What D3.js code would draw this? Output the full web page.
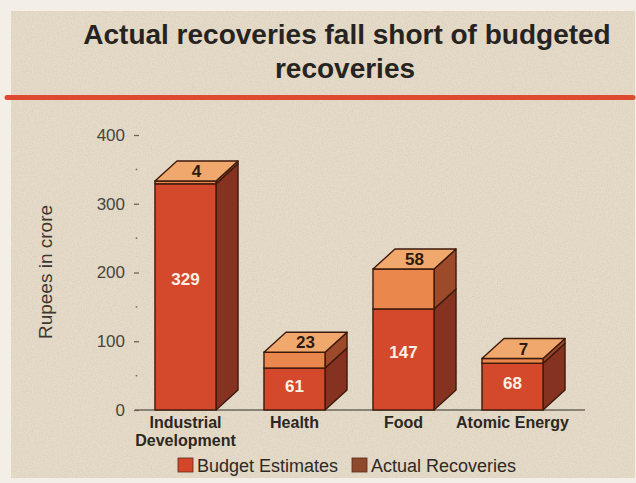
<!DOCTYPE html>
<html>
<head>
<meta charset="utf-8">
<script src="https://cdn.jsdelivr.net/npm/d3@7"></script>
<style>
  html, body { margin: 0; padding: 0; background: #f3efe7; }
  svg { display: block; }
  text { font-family: "Liberation Sans", Arial, Helvetica, sans-serif; }
</style>
</head>
<body>
<svg id="chart" width="636" height="483"></svg>
<script>
// Recoveries by department, Rupees in crore
const categories = ["Industrial Development", "Health", "Food", "Atomic Energy"];
const budgetEstimates = [329, 61, 147, 68];
const actualRecoveries = [4, 23, 58, 7];
const yTicks = [0, 100, 200, 300, 400];
const minorTicks = [50, 150, 250, 350];
const seriesNames = ["Budget Estimates", "Actual Recoveries"];

const svg = d3.select("#chart");

// paper grain
const defs = svg.append("defs");
const grain = defs.append("filter").attr("id", "grain").attr("x", 0).attr("y", 0).attr("width", "100%").attr("height", "100%");
grain.append("feTurbulence").attr("type", "fractalNoise").attr("baseFrequency", 0.8).attr("numOctaves", 3).attr("seed", 4).attr("result", "n");
grain.append("feColorMatrix").attr("in", "n").attr("type", "matrix")
  .attr("values", "0 0 0 0 0.45  0 0 0 0 0.40  0 0 0 0 0.32  0 0 0 0.7 -0.25");

// panel
svg.append("rect").attr("x", 11).attr("y", 11).attr("width", 624).attr("height", 467).attr("fill", "#e5dbc8");
svg.append("rect").attr("x", 11).attr("y", 11).attr("width", 624).attr("height", 467).attr("filter", "url(#grain)").attr("opacity", 0.6);

// title
const title = svg.append("text").attr("text-anchor", "middle")
  .attr("font-weight", "bold").attr("font-size", 28).attr("fill", "#272320");
title.append("tspan").attr("x", 347).attr("y", 44).text("Actual recoveries fall short of budgeted");
title.append("tspan").attr("x", 345).attr("y", 78).text("recoveries");

// rule under title
svg.append("line").attr("x1", 7).attr("x2", 633).attr("y1", 97.5).attr("y2", 97.5)
  .attr("stroke", "#de4a2e").attr("stroke-width", 5).attr("stroke-linecap", "round");

// scales
const y = d3.scaleLinear().domain([0, 400]).range([410, 135]);
const x = d3.scaleBand().domain(categories).range([131, 567]).paddingInner(0.44).paddingOuter(0.22);
const bw = x.bandwidth();
const dx = 22, dy = -20;

// y axis ticks and labels
const axisG = svg.append("g").attr("transform", "translate(139,0)")
  .call(d3.axisLeft(y).tickValues(yTicks).tickSize(5).tickPadding(9).tickFormat(d3.format("d")));
axisG.select(".domain").remove();
axisG.selectAll(".tick line").attr("stroke", "#6b635a").attr("stroke-width", 1.3);
axisG.selectAll(".tick text").attr("fill", "#4a443e").attr("font-size", 17)
  .attr("font-family", "\"Liberation Sans\", Arial, sans-serif");
svg.append("g").selectAll("circle").data(minorTicks).join("circle")
  .attr("cx", 136.5).attr("cy", d => y(d)).attr("r", 0.9).attr("fill", "#7a7268");

// y axis title
svg.append("text").attr("transform", `translate(52,272) rotate(-90)`)
  .attr("text-anchor", "middle").attr("font-size", 19).attr("fill", "#3c3731")
  .text("Rupees in crore");

// baseline
svg.append("line").attr("x1", 135).attr("x2", 585).attr("y1", y(0)).attr("y2", y(0))
  .attr("stroke", "#6e665c").attr("stroke-width", 1.5);

// stacked 3D bars
const rows = categories.map((c, i) => ({ c, b: budgetEstimates[i], a: actualRecoveries[i] }));
const outline = "#3d1a0c";
const faceCol = { front: ["#d4492b", "#ea874c"], side: ["#863220", "#9c4a2a"] };

const bars = svg.append("g").selectAll("g").data(rows).join("g");
bars.each(function (d) {
  const g = d3.select(this);
  const x0 = x(d.c), x1 = x0 + bw;
  const segs = [[0, d.b], [d.b, d.b + d.a]];
  segs.forEach((s, k) => {
    const yb = y(s[0]), yt = y(s[1]);
    g.append("path")
      .attr("d", `M${x1},${yt}L${x1 + dx},${yt + dy}L${x1 + dx},${yb + dy}L${x1},${yb}Z`)
      .attr("fill", faceCol.side[k]).attr("stroke", outline).attr("stroke-width", 1.4).attr("stroke-linejoin", "round");
    g.append("rect").attr("x", x0).attr("y", yt).attr("width", bw).attr("height", yb - yt)
      .attr("fill", faceCol.front[k]).attr("stroke", outline).attr("stroke-width", 1.4);
  });
  const top = y(d.b + d.a);
  g.append("path")
    .attr("d", `M${x0},${top}L${x0 + dx},${top + dy}L${x1 + dx},${top + dy}L${x1},${top}Z`)
    .attr("fill", "#f1a86d").attr("stroke", outline).attr("stroke-width", 1.4).attr("stroke-linejoin", "round");

  // value labels
  g.append("text").attr("x", x0 + bw / 2).attr("y", y(d.b * 0.58)).attr("dy", "0.36em")
    .attr("text-anchor", "middle").attr("font-weight", "bold").attr("font-size", 17)
    .attr("fill", "#fbf1e6").text(d.b);
  g.append("text").attr("x", x0 + bw / 2 + dx / 2).attr("y", top + dy / 2).attr("dy", "0.36em")
    .attr("text-anchor", "middle").attr("font-weight", "bold").attr("font-size", 17)
    .attr("fill", "#2e1a10").text(d.a);
});

// category labels
const catG = svg.append("g").selectAll("text").data(categories).join("text")
  .attr("text-anchor", "middle").attr("font-weight", "bold").attr("font-size", 16).attr("fill", "#2c2722");
catG.each(function (c) {
  const words = c === "Industrial Development" ? ["Industrial", "Development"] : [c];
  const t = d3.select(this);
  words.forEach((w, i) => t.append("tspan").attr("x", x(c) + bw / 2).attr("y", 428 + i * 18).text(w));
});

// legend
const legendColors = ["#d4462a", "#8e4a2d"];
const legendX = [178, 352];
const lg = svg.append("g").selectAll("g").data(seriesNames).join("g")
  .attr("transform", (d, i) => `translate(${legendX[i]},458)`);
lg.append("rect").attr("width", 15).attr("height", 14).attr("fill", (d, i) => legendColors[i])
  .attr("stroke", "#5a2a18").attr("stroke-width", 0.8);
lg.append("text").attr("x", 19).attr("y", 13.5).attr("font-size", 18).attr("fill", "#2e2924").text(d => d);
</script>
</body>
</html>
